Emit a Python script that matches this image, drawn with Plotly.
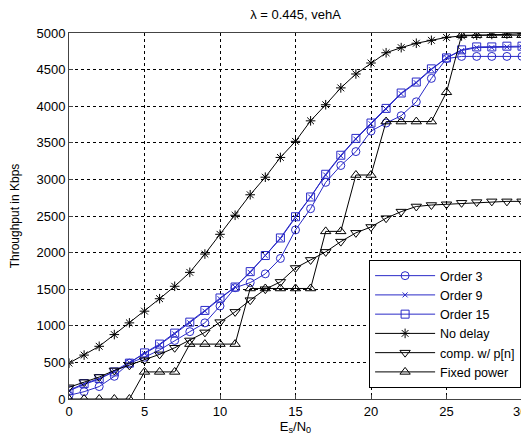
import plotly.graph_objects as go

esn0 = list(range(31))

order3 = [50, 100, 170, 310, 490, 570, 670, 800, 920, 1040, 1270, 1520, 1590, 1710, 1920, 2310, 2600, 2960, 3190, 3380,
          3660, 3770, 3870, 4060, 4380, 4650, 4680, 4680, 4680, 4680, 4680]
order9 = [110, 200, 270, 380, 500, 620, 740, 890, 1040, 1200, 1370, 1530, 1730, 1960, 2190, 2480, 2760, 3060, 3320, 3550,
          3760, 3960, 4170, 4320, 4500, 4660, 4760, 4800, 4800, 4810, 4810]
order15 = [120, 210, 280, 370, 490, 630, 750, 900, 1050, 1210, 1380, 1530, 1740, 1960, 2200, 2490, 2760, 3070, 3330, 3560,
           3770, 3970, 4180, 4330, 4510, 4660, 4770, 4810, 4810, 4820, 4820]
no_delay = [490, 600, 720, 880, 1040, 1200, 1370, 1540, 1730, 1980, 2250, 2510, 2790, 3030, 3300, 3520, 3800, 4020, 4250, 4440,
            4590, 4730, 4800, 4860, 4900, 4940, 4960, 4970, 4980, 4985, 4990]
comp_pn = [160, 230, 300, 390, 460, 530, 610, 700, 800, 910, 1050, 1190, 1350, 1500, 1600, 1790, 1900, 2010, 2150, 2270,
           2350, 2470, 2560, 2630, 2650, 2660, 2680, 2690, 2700, 2700, 2700]
fixed_power = [0, 0, 0, 0, 0, 370, 370, 370, 750, 750, 750, 750, 1510, 1510, 1510, 1510, 1510, 2290, 2290, 3060,
               3060, 3790, 3790, 3790, 3790, 4190, 4970, 4970, 4970, 4970, 4970]

x_ticks = [0, 5, 10, 15, 20, 25, 30]

series = [
    ("Order 3", order3, "circle-open", "#2a2ac8", 8),
    ("Order 9", order9, "x-thin-open", "#2a2ac8", 5),
    ("Order 15", order15, "square-open", "#2a2ac8", 8),
    ("No delay", no_delay, "asterisk-open", "black", 8),
    ("comp. w/ p[n]", comp_pn, "triangle-down-open", "black", 9),
    ("Fixed power", fixed_power, "triangle-up-open", "black", 9),
]

fig = go.Figure()
for name, vals, sym, col, sz in series:
    fig.add_trace(go.Scatter(
        x=esn0, y=vals, name=name, mode="lines+markers",
        line=dict(color=col, width=1),
        marker=dict(symbol=sym, size=sz, color=col, line=dict(color=col, width=1)),
    ))

font = dict(family="Liberation Sans, Arial, sans-serif", size=13, color="black")
axis_common = dict(
    showline=True, linecolor="#444", linewidth=1, mirror=True,
    ticks="inside", ticklen=4, tickcolor="#444",
    showgrid=True, gridcolor="black", gridwidth=1, griddash="3px,3px",
    zeroline=False, tickfont=dict(size=13),
)

# page has an 8px body margin, so the figure is sized to end at the window edge
fig.update_layout(
    width=521, height=431,
    margin=dict(l=58, r=6, t=25, b=40),
    paper_bgcolor="white", plot_bgcolor="white",
    font=font,
    title=dict(text="λ = 0.445, vehA", x=0.5, xanchor="center", xref="paper", y=0.984, yanchor="middle",
               font=dict(size=13)),
    xaxis=dict(range=[0, 30], tickmode="array", tickvals=x_ticks[:-1], ticktext=[str(t) for t in x_ticks[:-1]],
               title=dict(text="E<sub>s</sub>/N<sub>0</sub>", standoff=0, font=dict(size=13)), **axis_common),
    yaxis=dict(range=[0, 5000], dtick=500, tick0=0,
               title=dict(text="Throughput in Kbps", standoff=14, font=dict(size=12)), **axis_common),
    legend=dict(x=0.998, xanchor="right", y=0.03, yanchor="bottom",
                bgcolor="white", bordercolor="black", borderwidth=1,
                font=dict(size=12.5), tracegroupgap=0, itemwidth=60),
    showlegend=True,
)

# last x tick label placed at the right edge, as in the reference
fig.add_annotation(x=x_ticks[-1], xref="x", y=0, yref="paper", yshift=-3, xshift=7, text=str(x_ticks[-1]),
                   showarrow=False, xanchor="right", yanchor="top", font=dict(size=13))

fig.write_html("out.html")
